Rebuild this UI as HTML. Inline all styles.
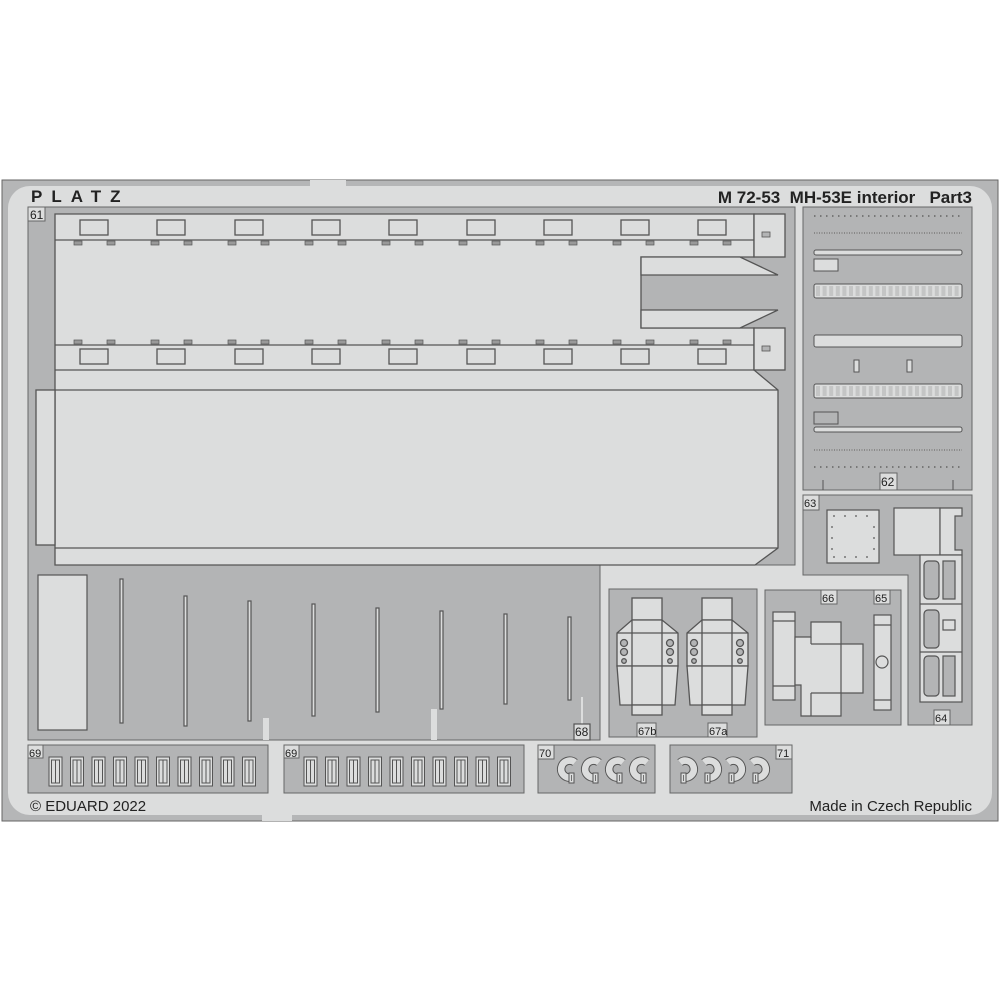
<!DOCTYPE html>
<html><head><meta charset="utf-8"><style>
html,body{margin:0;padding:0;background:#fff;}
svg{display:block;}
text{font-family:"Liberation Sans",sans-serif;fill:#222;}
</style></head><body>
<svg width="1000" height="1000" viewBox="0 0 1000 1000" xmlns="http://www.w3.org/2000/svg">
<defs>
<g id="seat" stroke="#555" stroke-width="1.3" fill="#dcdddd">
  <rect x="632" y="598" width="30" height="22"/>
  <path d="M632 620 L662 620 L678 633 L678 666 L617 666 L617 633 Z"/>
  <path d="M617 666 L678 666 L675 705 L620 705 Z"/>
  <rect x="632" y="705" width="30" height="10"/>
  <line x1="632" y1="620" x2="632" y2="705"/><line x1="662" y1="620" x2="662" y2="705"/>
  <line x1="617" y1="633" x2="678" y2="633"/>
  <circle cx="624" cy="643" r="3.5" fill="#b3b4b5"/><circle cx="624" cy="652" r="3.5" fill="#b3b4b5"/><circle cx="624" cy="661" r="2.3" fill="#b3b4b5"/>
  <circle cx="670" cy="643" r="3.5" fill="#b3b4b5"/><circle cx="670" cy="652" r="3.5" fill="#b3b4b5"/><circle cx="670" cy="661" r="2.3" fill="#b3b4b5"/>
</g>
<g id="cell" stroke="#555" stroke-width="1" fill="#dcdddd">
  <rect x="0" y="0" width="13" height="29"/>
  <line x1="6.5" y1="3" x2="6.5" y2="26"/><rect x="2.5" y="3" width="8" height="23" fill="none"/>
</g>
<g id="cl">
  <path d="M5 -6.5 A8.5 8.5 0 1 0 2 8.3" fill="none" stroke="#555" stroke-width="8.5"/>
  <path d="M5 -6.5 A8.5 8.5 0 1 0 2 8.3" fill="none" stroke="#dcdddd" stroke-width="6.5"/>
  <rect x="-1" y="4" width="5" height="10" fill="#dcdddd" stroke="#555" stroke-width="1"/>
  <line x1="1.5" y1="6" x2="1.5" y2="12" stroke="#555" stroke-width="0.8"/>
</g>
</defs>
<!-- fret -->
<rect x="2" y="180" width="996" height="641" fill="#b5b6b7" stroke="#666" stroke-width="1"/>
<rect x="8" y="186" width="984" height="629" rx="22" fill="#dcdddd"/>
<rect x="310" y="180" width="36" height="8" fill="#dcdddd"/>
<rect x="262" y="813" width="30" height="8" fill="#dcdddd"/>
<text x="31" y="202" font-size="17" font-weight="bold" letter-spacing="9" fill="#111">PLATZ</text>
<text x="972" y="203" font-size="17" font-weight="bold" text-anchor="end" xml:space="preserve">M 72-53  MH-53E interior   Part3</text>
<text x="30" y="811" font-size="15">© EDUARD 2022</text>
<text x="972" y="811" font-size="15" text-anchor="end">Made in Czech Republic</text>

<!-- part 61 carrier -->
<path d="M28 207 L795 207 L795 565 L600 565 L600 740 L28 740 Z" fill="#b3b4b5" stroke="#666"/>
<rect x="28" y="207" width="17" height="14" fill="#dcdddd" stroke="#666"/>
<text x="30" y="219" font-size="12">61</text>
<g stroke="#555" stroke-width="1.3" fill="#dcdddd">
  <path d="M55 214 L754 214 L754 257 L641 257 L641 328 L754 328 L754 370 L778 390 L778 548 L755 565 L55 565 Z"/>
  <rect x="754" y="214" width="31" height="43"/>
  <rect x="754" y="328" width="31" height="42"/>
  <path d="M641 257 L740 257 L778 275 L641 275 Z"/>
  <path d="M641 310 L778 310 L740 328 L641 328 Z"/>
  <line x1="55" y1="240" x2="754" y2="240"/>
  <line x1="55" y1="345" x2="754" y2="345"/>
  <line x1="55" y1="370" x2="754" y2="370"/>
  <line x1="55" y1="390" x2="778" y2="390"/>
  <line x1="55" y1="548" x2="778" y2="548"/>
  <rect x="36" y="390" width="19" height="155"/>
  <rect x="762" y="232" width="8" height="5" fill="#b3b4b5" stroke-width="0.8"/>
  <rect x="762" y="346" width="8" height="5" fill="#b3b4b5" stroke-width="0.8"/>
</g>
<g stroke="#555" stroke-width="1.3" fill="none">
  <rect x="80" y="220" width="28" height="15"/><rect x="157" y="220" width="28" height="15"/><rect x="235" y="220" width="28" height="15"/><rect x="312" y="220" width="28" height="15"/><rect x="389" y="220" width="28" height="15"/><rect x="467" y="220" width="28" height="15"/><rect x="544" y="220" width="28" height="15"/><rect x="621" y="220" width="28" height="15"/><rect x="698" y="220" width="28" height="15"/>
  <rect x="80" y="349" width="28" height="15"/><rect x="157" y="349" width="28" height="15"/><rect x="235" y="349" width="28" height="15"/><rect x="312" y="349" width="28" height="15"/><rect x="389" y="349" width="28" height="15"/><rect x="467" y="349" width="28" height="15"/><rect x="544" y="349" width="28" height="15"/><rect x="621" y="349" width="28" height="15"/><rect x="698" y="349" width="28" height="15"/>
</g>
<g fill="#999" stroke="#555" stroke-width="0.7">
  <rect x="74" y="241" width="8" height="4"/><rect x="107" y="241" width="8" height="4"/><rect x="151" y="241" width="8" height="4"/><rect x="184" y="241" width="8" height="4"/><rect x="228" y="241" width="8" height="4"/><rect x="261" y="241" width="8" height="4"/><rect x="305" y="241" width="8" height="4"/><rect x="338" y="241" width="8" height="4"/><rect x="382" y="241" width="8" height="4"/><rect x="415" y="241" width="8" height="4"/><rect x="459" y="241" width="8" height="4"/><rect x="492" y="241" width="8" height="4"/><rect x="536" y="241" width="8" height="4"/><rect x="569" y="241" width="8" height="4"/><rect x="613" y="241" width="8" height="4"/><rect x="646" y="241" width="8" height="4"/><rect x="690" y="241" width="8" height="4"/><rect x="723" y="241" width="8" height="4"/>
  <rect x="74" y="340" width="8" height="4"/><rect x="107" y="340" width="8" height="4"/><rect x="151" y="340" width="8" height="4"/><rect x="184" y="340" width="8" height="4"/><rect x="228" y="340" width="8" height="4"/><rect x="261" y="340" width="8" height="4"/><rect x="305" y="340" width="8" height="4"/><rect x="338" y="340" width="8" height="4"/><rect x="382" y="340" width="8" height="4"/><rect x="415" y="340" width="8" height="4"/><rect x="459" y="340" width="8" height="4"/><rect x="492" y="340" width="8" height="4"/><rect x="536" y="340" width="8" height="4"/><rect x="569" y="340" width="8" height="4"/><rect x="613" y="340" width="8" height="4"/><rect x="646" y="340" width="8" height="4"/><rect x="690" y="340" width="8" height="4"/><rect x="723" y="340" width="8" height="4"/>
</g>
<!-- lower area 68 -->
<g stroke="#555" stroke-width="1.2" fill="#dcdddd">
  <rect x="38" y="575" width="49" height="155"/>
  <rect x="120" y="579" width="3" height="144"/>
  <rect x="184" y="596" width="3" height="130"/>
  <rect x="248" y="601" width="3" height="120"/>
  <rect x="312" y="604" width="3" height="112"/>
  <rect x="376" y="608" width="3" height="104"/>
  <rect x="440" y="611" width="3" height="98"/>
  <rect x="504" y="614" width="3" height="90"/>
  <rect x="568" y="617" width="3" height="83"/>
  <rect x="581" y="697" width="2" height="27" stroke="none"/>
  <rect x="263" y="718" width="6" height="22" stroke="none"/>
  <rect x="431" y="709" width="6" height="31" stroke="none"/>
  <rect x="574" y="724" width="16" height="16"/>
</g>
<text x="575" y="736" font-size="12">68</text>
<!-- 69 panels -->
<path d="M28 745 L268 745 L268 793 L28 793 Z" fill="#b3b4b5" stroke="#666"/>
<path d="M284 745 L524 745 L524 793 L284 793 Z" fill="#b3b4b5" stroke="#666"/>
<rect x="28" y="745" width="15" height="13" fill="#dcdddd" stroke="#666"/><text x="29" y="757" font-size="11">69</text>
<rect x="284" y="745" width="15" height="13" fill="#dcdddd" stroke="#666"/><text x="285" y="757" font-size="11">69</text>
<g>
<use href="#cell" x="49" y="757"/><use href="#cell" x="70.5" y="757"/><use href="#cell" x="92" y="757"/><use href="#cell" x="113.5" y="757"/><use href="#cell" x="135" y="757"/><use href="#cell" x="156.5" y="757"/><use href="#cell" x="178" y="757"/><use href="#cell" x="199.5" y="757"/><use href="#cell" x="221" y="757"/><use href="#cell" x="242.5" y="757"/>
<use href="#cell" x="304" y="757"/><use href="#cell" x="325.5" y="757"/><use href="#cell" x="347" y="757"/><use href="#cell" x="368.5" y="757"/><use href="#cell" x="390" y="757"/><use href="#cell" x="411.5" y="757"/><use href="#cell" x="433" y="757"/><use href="#cell" x="454.5" y="757"/><use href="#cell" x="476" y="757"/><use href="#cell" x="497.5" y="757"/>
</g>
<!-- 70 / 71 -->
<rect x="538" y="745" width="117" height="48" fill="#b3b4b5" stroke="#666"/>
<rect x="538" y="745" width="16" height="14" fill="#dcdddd" stroke="#666"/><text x="539" y="757" font-size="11">70</text>
<rect x="670" y="745" width="122" height="48" fill="#b3b4b5" stroke="#666"/>
<rect x="776" y="745" width="16" height="14" fill="#dcdddd" stroke="#666"/><text x="777" y="757" font-size="11">71</text>
<use href="#cl" x="570" y="769"/><use href="#cl" x="594" y="769"/><use href="#cl" x="618" y="769"/><use href="#cl" x="642" y="769"/>
<g transform="translate(1382 0) scale(-1 1)"><use href="#cl" x="697" y="769"/><use href="#cl" x="673" y="769"/><use href="#cl" x="649" y="769"/><use href="#cl" x="625" y="769"/></g>
<!-- 67 -->
<rect x="609" y="589" width="148" height="148" fill="#b3b4b5" stroke="#666"/>
<use href="#seat"/><use href="#seat" x="70"/>
<rect x="637" y="723" width="19" height="14" fill="#dcdddd" stroke="#666"/><text x="638" y="735" font-size="11">67b</text>
<rect x="708" y="723" width="19" height="14" fill="#dcdddd" stroke="#666"/><text x="709" y="735" font-size="11">67a</text>
<!-- 66/65 -->
<rect x="765" y="590" width="136" height="135" fill="#b3b4b5" stroke="#666"/>
<g stroke="#555" stroke-width="1.2" fill="#dcdddd">
  <rect x="773" y="612" width="22" height="88"/><line x1="773" y1="621" x2="795" y2="621"/><line x1="773" y1="686" x2="795" y2="686"/>
  <path d="M795 637 L811 637 L811 622 L841 622 L841 644 L863 644 L863 693 L841 693 L841 716 L801 716 L801 685 L795 685 Z"/>
  <line x1="811" y1="637" x2="811" y2="644"/><line x1="811" y1="644" x2="841" y2="644"/><line x1="841" y1="644" x2="841" y2="693"/><line x1="811" y1="693" x2="841" y2="693"/><line x1="811" y1="693" x2="811" y2="716"/>
  <rect x="874" y="615" width="17" height="95"/><line x1="874" y1="625" x2="891" y2="625"/><line x1="874" y1="700" x2="891" y2="700"/>
  <circle cx="882" cy="662" r="6"/>
</g>
<rect x="821" y="590" width="16" height="14" fill="#dcdddd" stroke="#666"/><text x="822" y="602" font-size="11">66</text>
<rect x="874" y="590" width="16" height="14" fill="#dcdddd" stroke="#666"/><text x="875" y="602" font-size="11">65</text>
<!-- 63/64 -->
<path d="M803 495 L972 495 L972 725 L908 725 L908 575 L803 575 Z" fill="#b3b4b5" stroke="#666"/>
<rect x="803" y="495" width="16" height="15" fill="#dcdddd" stroke="#666"/><text x="804" y="507" font-size="11">63</text>
<rect x="934" y="710" width="16" height="15" fill="#dcdddd" stroke="#666"/><text x="935" y="722" font-size="11">64</text>
<g stroke="#555" stroke-width="1.2" fill="#dcdddd">
  <rect x="827" y="510" width="52" height="53"/>
  <rect x="894" y="508" width="46" height="47"/>
  <path d="M940 508 L962 508 L962 516 L955 516 L955 550 L962 550 L962 555 L940 555 Z"/>
  <rect x="920" y="555" width="42" height="147"/>
  <rect x="924" y="561" width="15" height="38" rx="4" fill="#b3b4b5"/><rect x="943" y="561" width="12" height="38" fill="#b3b4b5"/>
  <rect x="924" y="610" width="15" height="38" rx="4" fill="#b3b4b5"/><rect x="943" y="620" width="12" height="10" fill="#dcdddd"/>
  <rect x="924" y="656" width="15" height="40" rx="4" fill="#b3b4b5"/><rect x="943" y="656" width="12" height="40" fill="#b3b4b5"/>
  <line x1="920" y1="604" x2="962" y2="604"/><line x1="920" y1="652" x2="962" y2="652"/>
</g>
<g fill="#555"><circle cx="834" cy="516" r="0.9"/><circle cx="845" cy="516" r="0.9"/><circle cx="856" cy="516" r="0.9"/><circle cx="867" cy="516" r="0.9"/><circle cx="834" cy="557" r="0.9"/><circle cx="845" cy="557" r="0.9"/><circle cx="856" cy="557" r="0.9"/><circle cx="867" cy="557" r="0.9"/><circle cx="832" cy="527" r="0.9"/><circle cx="832" cy="538" r="0.9"/><circle cx="832" cy="549" r="0.9"/><circle cx="874" cy="527" r="0.9"/><circle cx="874" cy="538" r="0.9"/><circle cx="874" cy="549" r="0.9"/></g>
<!-- 62 -->
<rect x="803" y="207" width="169" height="283" fill="#b3b4b5" stroke="#666"/>
<rect x="880" y="473" width="17" height="17" fill="#dcdddd" stroke="#666"/><text x="881" y="486" font-size="12">62</text>
<g stroke="#555" fill="#dcdddd" stroke-width="1">
  <line x1="814" y1="216" x2="962" y2="216" stroke-dasharray="1.5 4.5" stroke-width="2" stroke="#777"/>
  <line x1="814" y1="233" x2="962" y2="233" stroke-dasharray="1 1.5" stroke-width="2" stroke="#888"/>
  <rect x="814" y="250" width="148" height="5" rx="2"/>
  <rect x="814" y="259" width="24" height="12"/>
  <rect x="814" y="284" width="148" height="14" rx="2"/>
  <rect x="814" y="335" width="148" height="12" rx="2"/>
  <rect x="854" y="360" width="5" height="12"/><rect x="907" y="360" width="5" height="12"/>
  <rect x="814" y="384" width="148" height="14" rx="2"/>
  <rect x="814" y="412" width="24" height="12" fill="#b3b4b5"/>
  <rect x="814" y="427" width="148" height="5" rx="2"/>
  <line x1="814" y1="450" x2="962" y2="450" stroke-dasharray="1 1.5" stroke-width="2" stroke="#888"/>
  <line x1="814" y1="467" x2="962" y2="467" stroke-dasharray="1.5 4.5" stroke-width="2" stroke="#777"/>
</g>
<g stroke="#666" stroke-width="0.8" fill="none">
  <path d="M816 291 h144" stroke-dasharray="4 2.6" stroke-width="10" stroke="#999" opacity="0.35"/>
  <path d="M816 391 h144" stroke-dasharray="4 2.6" stroke-width="10" stroke="#999" opacity="0.35"/>
</g>
<line x1="823" y1="480" x2="823" y2="490" stroke="#555"/><line x1="953" y1="480" x2="953" y2="490" stroke="#555"/>
</svg>
</body></html>
